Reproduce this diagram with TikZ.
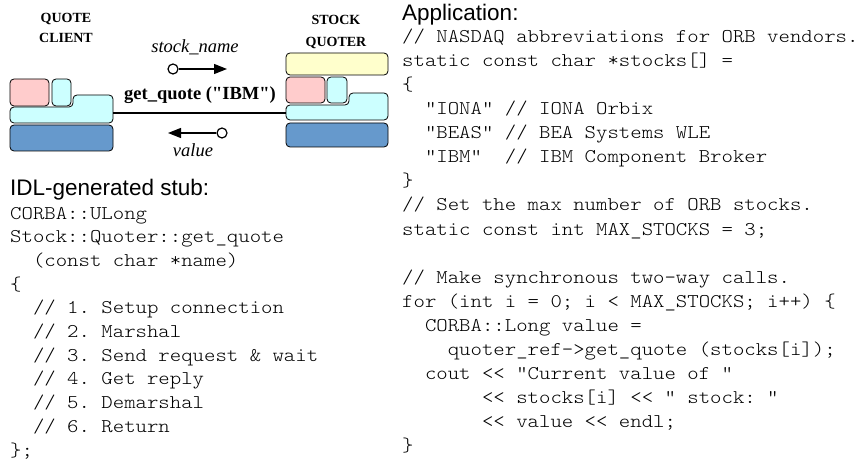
\documentclass[tikz,border=0pt]{standalone}
\usepackage{fontspec}
\setmainfont{Liberation Serif}
\setmonofont{Latin Modern Mono Light}[FakeStretch=1.12]
\newfontfamily\headfont{Liberation Sans}
\newfontfamily\serfont{Liberation Serif}
\usetikzlibrary{arrows.meta}
\definecolor{pinkc}{RGB}{255,204,204}
\definecolor{cyanc}{RGB}{204,255,255}
\definecolor{bluec}{RGB}{102,153,204}
\definecolor{yellowc}{RGB}{255,255,204}
\frenchspacing
\begin{document}
\begin{tikzpicture}[x=1pt,y=-1pt,
  blk/.style={draw=black, line width=0.8pt, rounded corners=4pt},
  code/.style={anchor=base west, inner sep=0pt, font=\ttfamily\fontsize{19.4}{20}\selectfont},
  head/.style={anchor=base west, inner sep=0pt, font=\headfont\fontsize{22.5}{25}\selectfont},
  lbl/.style={anchor=base, inner sep=0pt, font=\serfont\bfseries\fontsize{14}{16}\selectfont},
  ital/.style={anchor=base, inner sep=0pt, font=\serfont\itshape\fontsize{18.5}{20}\selectfont},
  callt/.style={anchor=base, inner sep=0pt, font=\serfont\bfseries\fontsize{18.5}{20}\selectfont},
  conn/.style={line width=2pt},
  sig/.style={line width=1.3pt, -{Triangle[length=13pt,width=10pt]}},
  port/.style={circle, draw, fill=white, line width=1.2pt, inner sep=0pt, minimum size=10pt}
]
\useasboundingbox (0,0) rectangle (858,462);

% client stack
\draw[blk, fill=pinkc] (10,79) rectangle (49,106);
\draw[blk, fill=cyanc] (52,79) rectangle (71,106);
\draw[blk, fill=cyanc] (10,115) -- (10,107) -- (73,107) -- (73,95) -- (113,95) -- (113,123) -- (10,123) -- cycle;
\draw[blk, fill=bluec] (10,125) rectangle (113,151);
\coordinate (cl) at (113,113);

% server stack
\draw[blk, fill=yellowc] (286,53) rectangle (388,75);
\draw[blk, fill=pinkc] (286,77) rectangle (325,103);
\draw[blk, fill=cyanc] (327,77) rectangle (347,103);
\draw[blk, fill=cyanc] (286,112) -- (286,105) -- (349,105) -- (349,93) -- (388,93) -- (388,120) -- (286,120) -- cycle;
\draw[blk, fill=bluec] (286,123) rectangle (388,147);
\coordinate (cr) at (286,113);

\draw[conn] (cl) -- (cr);

% labels
\node[lbl] (qc1) at (66,23) {QUOTE};
\node[lbl] (qc2) at (66,43) {CLIENT};
\node[lbl] (sq1) at (336,25) {STOCK};
\node[lbl] (sq2) at (336,47) {QUOTER};
\node[ital] (sn) at (195,53) {stock\_name};
\node[ital] (val) at (193,157) {value};
\node[callt] (gq) at (200,100) {get\_quote ("IBM")};

% arrows
\node[port] (p1) at (173,69) {};
\coordinate (p1e) at (227,69);
\draw[sig] (p1) -- (p1e);
\node[port] (p2) at (222,133) {};
\coordinate (p2e) at (168,133);
\draw[sig] (p2) -- (p2e);

% headings
\node[head] (h1) at (10,196) {IDL-generated stub:};
\node[head] (h2) at (402,21) {Application:};

% left code
\node[code] (l0) at (10,219.0) {CORBA::ULong};
\node[code] (l1) at (10,242.7) {Stock::Quoter::get\_quote};
\node[code] (l2) at (10,266.4) {\ \ (const char *name)};
\node[code] (l3) at (10,290.1) {\{};
\node[code] (l4) at (10,313.8) {\ \ // 1. Setup connection};
\node[code] (l5) at (10,337.5) {\ \ // 2. Marshal};
\node[code] (l6) at (10,361.2) {\ \ // 3. Send request \& wait};
\node[code] (l7) at (10,384.9) {\ \ // 4. Get reply};
\node[code] (l8) at (10,408.6) {\ \ // 5. Demarshal};
\node[code] (l9) at (10,432.3) {\ \ // 6. Return};
\node[code] (l10) at (10,456.0) {\};};

% right code
\node[code] (r0) at (402,43) {// NASDAQ abbreviations for ORB vendors.};
\node[code] (r1) at (402,67) {static const char *stocks[] =};
\node[code] (r2) at (402,91) {\{};
\node[code] (r3) at (402,115) {\ \ "IONA" // IONA Orbix};
\node[code] (r4) at (402,139) {\ \ "BEAS" // BEA Systems WLE};
\node[code] (r5) at (402,163) {\ \ "IBM"\ \ // IBM Component Broker};
\node[code] (r6) at (402,187) {\}};
\node[code] (r7) at (402,211) {// Set the max number of ORB stocks.};
\node[code] (r8) at (402,235) {static const int MAX\_STOCKS = 3;};
\node[code] (r10) at (402,283) {// Make synchronous two-way calls.};
\node[code] (r11) at (402,307) {for (int i = 0; i < MAX\_STOCKS; i++) \{};
\node[code] (r12) at (402,331) {\ \ CORBA::Long value =};
\node[code] (r13) at (402,355) {\ \ \ \ quoter\_ref->get\_quote (stocks[i]);};
\node[code] (r14) at (402,379) {\ \ cout << "Current value of "};
\node[code] (r15) at (402,403) {\ \ \ \ \ \ \ << stocks[i] << " stock: "};
\node[code] (r16) at (402,427) {\ \ \ \ \ \ \ << value << endl;};
\node[code] (r17) at (402,451) {\}};
\end{tikzpicture}
\end{document}
